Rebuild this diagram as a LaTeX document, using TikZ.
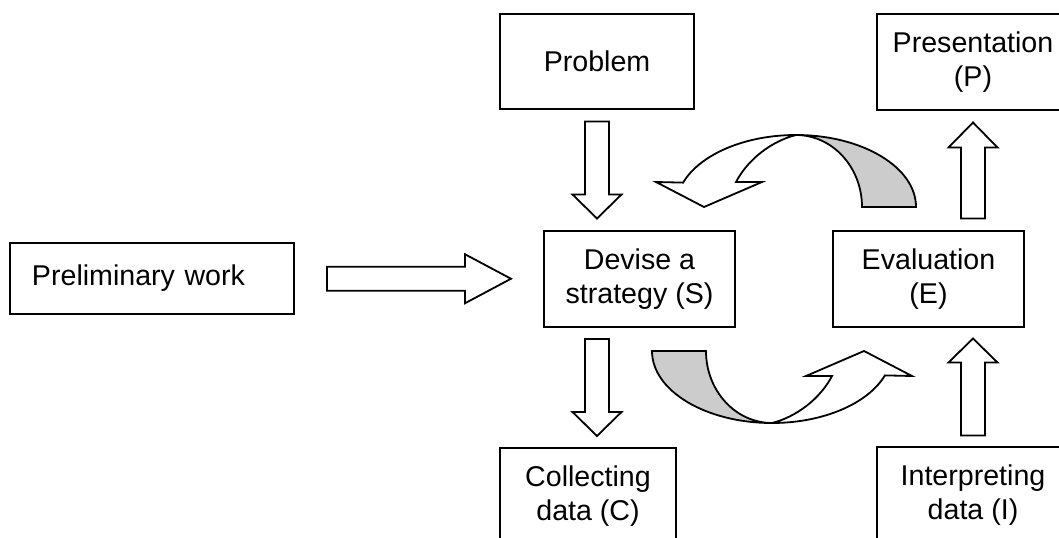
\documentclass[tikz,border=0pt]{standalone}
\usepackage{fontspec}
\setmainfont{Liberation Sans}
\usetikzlibrary{calc}

\tikzset{
  box/.style = {draw, line width=0.9pt, align=center, inner sep=2pt,
                minimum width=95.5pt, minimum height=48pt,
                font=\fontsize{14.3}{17}\selectfont},
  arrowline/.style = {draw, line width=0.9pt, line join=miter},
  pics/blockarrow/.style 2 args = {code={
    \filldraw[arrowline, fill=white] ({-#1/2},-12) -- ({#1/2-#2},-12) -- ({#1/2-#2},-24.5)
      -- ({#1/2},0) -- ({#1/2-#2},24.5) -- ({#1/2-#2},12) -- ({-#1/2},12) -- cycle;
  }},
  pics/turnarrow/.style = {code={
    % back of the ribbon
    \filldraw[arrowline, fill=black!20] (12,144) arc[start angle=90, end angle=0, x radius=120, y radius=72]
      -- (78,72) arc[start angle=0, end angle=90, x radius=66, y radius=72] -- cycle;
    % front with the head
    \filldraw[arrowline, fill=white] (12,144) arc[start angle=90, end angle=160.2, x radius=120, y radius=72]
      -- (-128,97) -- (-80,72) -- (-22,97) -- (-48,97) .. controls (-36,120) and (-12,138) .. (12,144) -- cycle;
  }}
}

\begin{document}
\begin{tikzpicture}[x=0.5pt, y=0.5pt]
        \path[use as bounding box, clip] (0,0) rectangle (1059,537);
        \node[box, minimum width=97pt, minimum height=47.5pt] (prob) at (597,475.5) {Problem};
        \node[box, minimum width=96pt] (pres) at (973,475) {Presentation\\(P)};
        \node[box, text width=120pt, align=left, inner xsep=11pt, minimum height=35.5pt] (pre) at (152,258.5) {Preliminary work};
        \node[box] (dev) at (639.5,258) {Devise a\\strategy (S)};
        \node[box] (eval) at (928.5,258) {Evaluation\\(E)};
        \node[box, minimum width=88pt] (coll) at (588,41) {Collecting\\data (C)};
        \node[box, minimum width=96pt] (interp) at (973,42) {Interpreting\\data (I)};
        \pic[rotate=-90] at ($(prob.south)!.5!(prob.south |- dev.north)$) {blockarrow={97}{24}};
        \pic[rotate=-90] at ($(dev.south -| prob.south)!.5!(coll.north -| prob.south)$) {blockarrow={97}{24}};
        \pic[rotate=90] at ($(interp.north)!.5!(interp.north |- eval.south)$) {blockarrow={97}{24}};
        \pic[rotate=90] at ($(pres.south)!.5!(pres.south |- eval.north)$) {blockarrow={96}{25}};
        \pic at ($(pre.east)!.5!(dev.west)$) {blockarrow={184}{46}};
        \pic at ($(dev.east)!.5!(eval.west)$) {turnarrow};
        \pic[rotate=180] at ($(dev.east)!.5!(eval.west)$) {turnarrow};
        \end{tikzpicture}
\end{document}
